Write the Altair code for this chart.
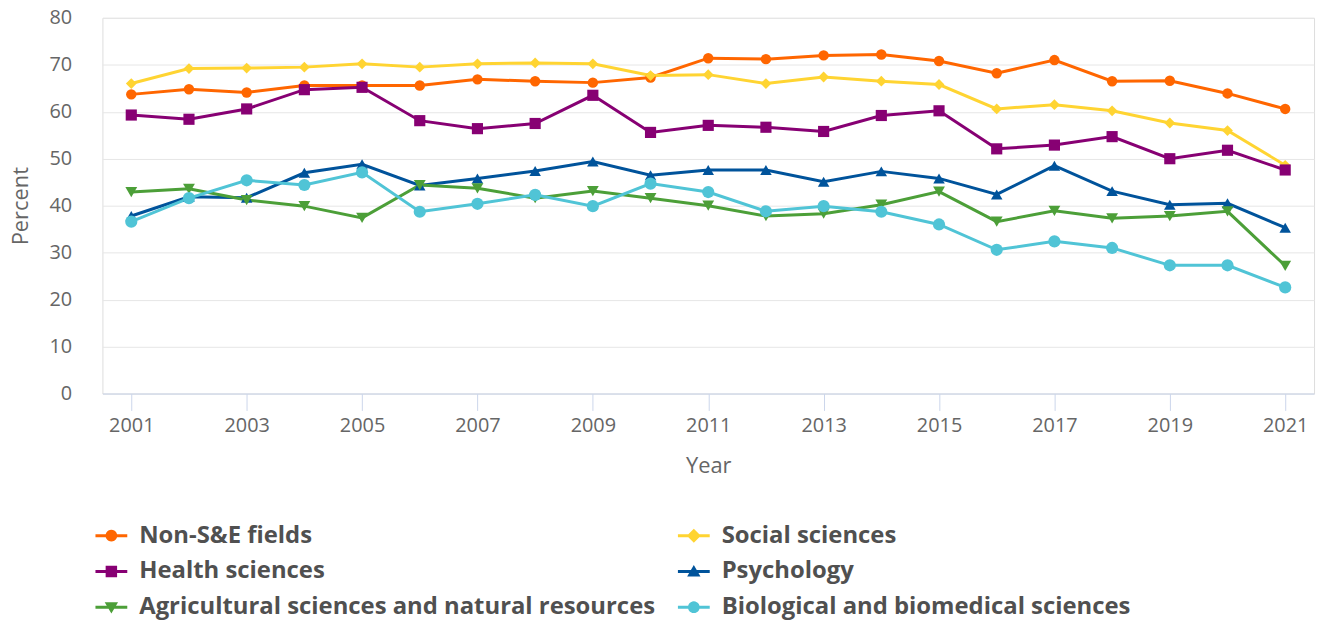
import math
import altair as alt
import pandas as pd

years = list(range(2001, 2022))
series_names = [
    "Non-S&E fields",
    "Social sciences",
    "Health sciences",
    "Psychology",
    "Agricultural sciences and natural resources",
    "Biological and biomedical sciences",
]
non_se = [63.7, 64.8, 64.1, 65.6, 65.6, 65.6, 66.9, 66.5, 66.2, 67.3, 71.4,
          71.2, 72.0, 72.2, 70.8, 68.2, 71.0, 66.5, 66.6, 63.9, 60.6]
social = [66.0, 69.2, 69.3, 69.5, 70.2, 69.5, 70.2, 70.4, 70.2, 67.7, 67.9,
          66.0, 67.4, 66.5, 65.8, 60.6, 61.5, 60.2, 57.6, 56.0, 48.6]
health = [59.3, 58.4, 60.6, 64.7, 65.2, 58.1, 56.4, 57.5, 63.5, 55.6, 57.1,
          56.7, 55.8, 59.2, 60.2, 52.1, 52.9, 54.7, 50.0, 51.8, 47.6]
psych = [37.8, 41.9, 41.7, 47.0, 48.8, 44.3, 45.8, 47.4, 49.4, 46.5, 47.6,
         47.6, 45.1, 47.3, 45.8, 42.4, 48.5, 43.1, 40.2, 40.5, 35.3]
agri = [42.9, 43.6, 41.2, 39.9, 37.4, 44.4, 43.7, 41.6, 43.1, 41.6, 40.0,
        37.8, 38.3, 40.2, 43.0, 36.6, 38.9, 37.3, 37.8, 38.8, 27.2]
bio = [36.6, 41.6, 45.4, 44.4, 47.1, 38.7, 40.4, 42.3, 39.9, 44.7, 42.9,
       38.8, 39.9, 38.7, 36.0, 30.6, 32.4, 31.0, 27.3, 27.3, 22.6]
y_ticks = [0, 10, 20, 30, 40, 50, 60, 70, 80]
x_ticks = list(range(2001, 2022, 2))

colors = ["#ff6600", "#ffd432", "#870073", "#00539b", "#4c9f38", "#50c4d6"]
shapes = ["circle", "diamond", "square", "triangle-up", "triangle-down", "circle"]
marker_sizes = [110, 150, 135, 180, 180, 110]

all_values = [non_se, social, health, psych, agri, bio]
rows = []
for name, vals in zip(series_names, all_values):
    for yr, v in zip(years, vals):
        rows.append({"Year": yr, "Percent": v, "Series": name})
df = pd.DataFrame(rows)


# legend symbols: a horizontal line with the marker on it (unit coords, r = 16px)
def fmt(pts):
    return "M" + " L".join(f"{x:.3f},{y:.3f}" for x, y in pts) + " Z"


h = 0.094
line_path = fmt([(-1, -h), (1, -h), (1, h), (-1, h)])
circ = fmt([(0.37 * math.cos(2 * math.pi * k / 24), 0.37 * math.sin(2 * math.pi * k / 24)) for k in range(24)])
diam = fmt([(0, -0.44), (0.44, 0), (0, 0.44), (-0.44, 0)])
sq = fmt([(-0.36, -0.36), (0.36, -0.36), (0.36, 0.36), (-0.36, 0.36)])
tri_up = fmt([(0, -0.40), (0.42, 0.32), (-0.42, 0.32)])
tri_dn = fmt([(0, 0.40), (-0.42, -0.32), (0.42, -0.32)])
legend_shapes = [line_path + " " + p for p in [circ, diam, sq, tri_up, tri_dn, circ]]

FONT = "Open Sans"
x_enc = alt.X(
    "Year:Q",
    scale=alt.Scale(domain=[2000.5, 2021.5], nice=False, zero=False),
    axis=alt.Axis(
        values=x_ticks, format="d", grid=False, domainColor="#ccd6eb", tickColor="#ccd6eb",
        tickSize=17, labelFontSize=20, labelColor="#666666", labelPadding=5, labelFont=FONT,
        title="Year", titleFontSize=22, titleFontWeight="normal", titleColor="#666666",
        titleFont=FONT, titleX=609.5, titleY=72, titleBaseline="middle", titleAlign="center",
    ),
)
y_enc = alt.Y(
    "Percent:Q",
    scale=alt.Scale(domain=[0, 80], nice=False),
    axis=alt.Axis(
        values=y_ticks, grid=True, gridColor="#e6e6e6", domain=False, ticks=False,
        labelPadding=31, labelFontSize=20, labelColor="#666666", labelFont=FONT,
        title="Percent", titleFontSize=22, titleFontWeight="normal", titleColor="#666666",
        titleFont=FONT, titleX=-82, titleY=189, titleAngle=-90, titleAlign="center",
        titleBaseline="middle",
    ),
)

color_scale = alt.Scale(domain=series_names, range=colors)

lines = alt.Chart(df).mark_line(strokeWidth=3).encode(
    x=x_enc, y=y_enc,
    color=alt.Color("Series:N", scale=color_scale, legend=None, sort=series_names),
    order=alt.Order("Year:Q"),
)

points = alt.Chart(df).mark_point(filled=True, opacity=1).encode(
    x=x_enc, y=y_enc,
    color=alt.Color("Series:N", scale=color_scale, legend=None, sort=series_names),
    shape=alt.Shape("Series:N", scale=alt.Scale(domain=series_names, range=shapes), legend=None,
                    sort=series_names),
    size=alt.Size("Series:N", scale=alt.Scale(domain=series_names, range=marker_sizes), legend=None,
                  sort=series_names),
)

leg_props = dict(
    title=None, orient="none", legendX=-7, legendY=505, columns=2, columnPadding=22,
    direction="horizontal", rowPadding=8, labelFontSize=24, labelFontWeight="bold",
    labelColor="#505050", labelFont=FONT, symbolSize=1024, symbolStrokeWidth=0,
    symbolOpacity=1, labelOffset=12, labelLimit=900, padding=0,
)

legend_layer = alt.Chart(df).mark_point(filled=True, opacity=0, size=10).encode(
    x=x_enc, y=y_enc,
    color=alt.Color("Series:N", scale=color_scale, sort=series_names, legend=alt.Legend(**leg_props)),
    shape=alt.Shape("Series:N", scale=alt.Scale(domain=series_names, range=legend_shapes),
                    sort=series_names, legend=alt.Legend(**leg_props)),
)

chart = alt.layer(lines, points, legend_layer).resolve_scale(
    color="independent", shape="independent", size="independent"
).properties(
    width=1219, height=378,
    autosize=alt.AutoSizeParams(type="none"),
    padding={"left": 95, "top": 8, "right": 7, "bottom": 230},
).configure_view(stroke=None).configure(font=FONT)

chart.save("out.html", embed_options={"renderer": "svg", "actions": False})
